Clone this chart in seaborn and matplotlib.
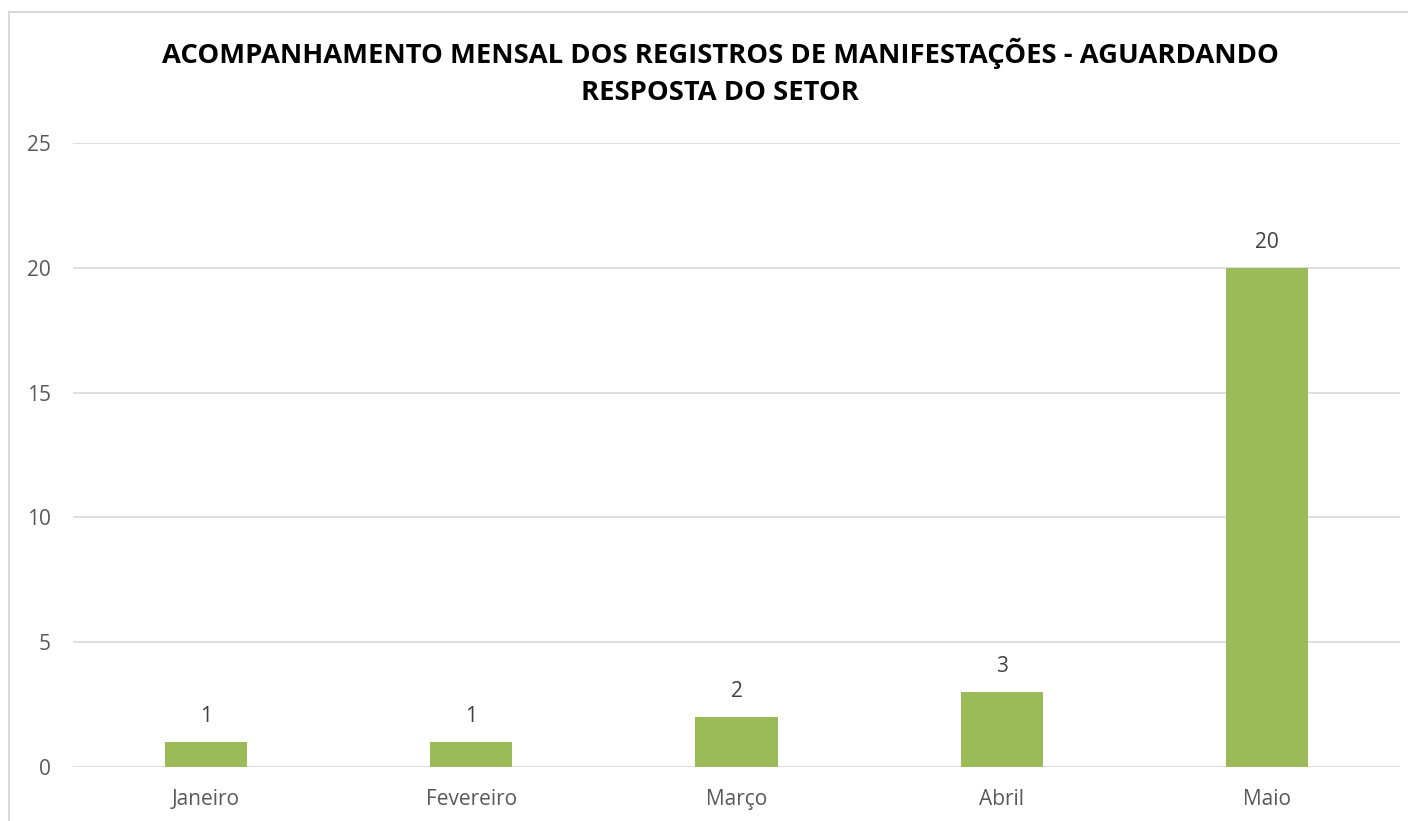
import matplotlib
matplotlib.use("Agg")
import matplotlib.pyplot as plt
import seaborn as sns
import pandas as pd
from matplotlib.patches import Rectangle

months = ["Janeiro", "Fevereiro", "Março", "Abril", "Maio"]
values = [1, 1, 2, 3, 20]
yticks = [0, 5, 10, 15, 20, 25]
title = "ACOMPANHAMENTO MENSAL DOS REGISTROS DE MANIFESTAÇÕES - AGUARDANDO\nRESPOSTA DO SETOR"

sns.set_theme(style="white")
plt.rcParams['font.family'] = ['Open Sans', 'DejaVu Sans']

df = pd.DataFrame({"mes": months, "valor": values})

fig = plt.figure(figsize=(14.08, 8.21), dpi=100)
ax = fig.add_axes([73/1408, 1-767/821, (1400-73)/1408, (767-143)/821])

sns.barplot(data=df, x="mes", y="valor", color="#9BBB59", width=0.31,
            saturation=1, linewidth=0, ax=ax, zorder=3)

ax.set_ylim(0, 25)
ax.set_xlim(-0.5, len(months)-0.5)
ax.set_yticks(yticks)
ax.yaxis.grid(True, color="#D9D9D9", linewidth=1.2, zorder=0)
ax.set_axisbelow(True)
for s in ax.spines.values():
    s.set_visible(False)
ax.set_xlabel("")
ax.set_ylabel("")
ax.tick_params(axis="both", length=0, labelsize=15, colors="#595959")
ax.tick_params(axis="y", pad=16)
ax.tick_params(axis="x", pad=16)

for c in ax.containers:
    ax.bar_label(c, labels=[str(v) for v in values], padding=11, fontsize=15, color="#404040")

fig.text(720/1408, 1-72/821, title, ha="center", va="center", fontsize=19.7,
         fontweight="bold", color="black", linespacing=1.55)

fig.patches.append(Rectangle((9/1408, -0.1), 1.1, 1-12/821+0.1, transform=fig.transFigure,
                             fill=False, edgecolor="#D9D9D9", linewidth=1.5))

fig.savefig("out.png", dpi=100)
